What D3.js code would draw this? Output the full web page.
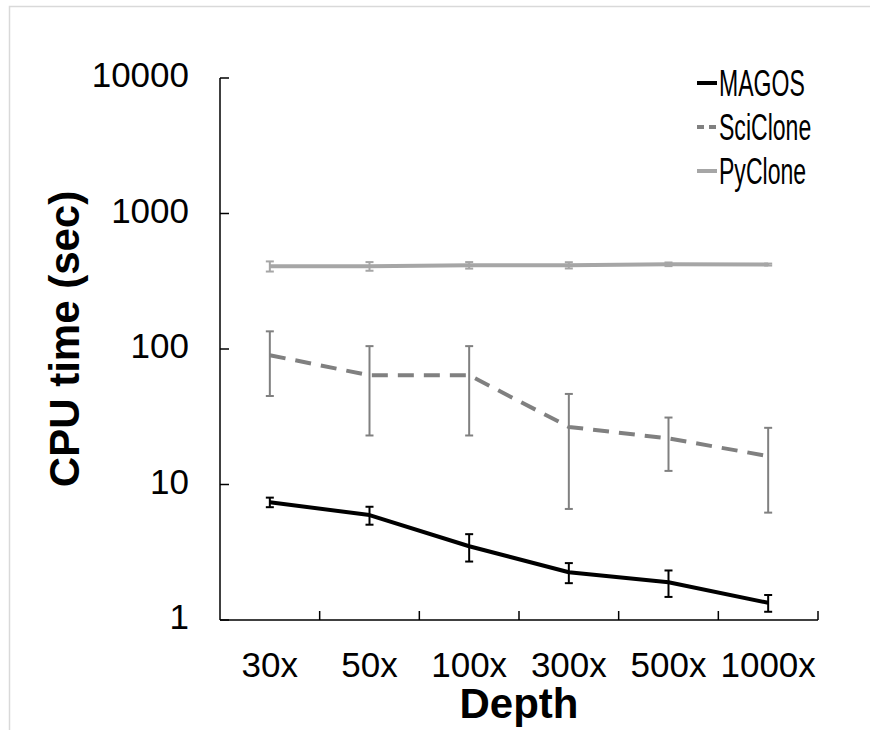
<!DOCTYPE html>
<html>
<head>
<meta charset="utf-8">
<script src="https://cdn.jsdelivr.net/npm/d3@7"></script>
<style>
  body { margin: 0; background: #fff; }
  text { font-family: "Liberation Sans", Arial, sans-serif; fill: #000; }
</style>
</head>
<body>
<script>
// data
var depths = ["30x", "50x", "100x", "300x", "500x", "1000x"];
var yTicks = [1, 10, 100, 1000, 10000];

var magos = [7.4, 5.95, 3.5, 2.25, 1.9, 1.34];
var magosErr = [0.6, 0.9, 0.8, 0.38, 0.42, 0.19];

var sciclone = [90, 64, 64, 26.6, 21.9, 16.2];
var scicloneErr = [45, 41, 41, 20, 9.3, 10];

var pyclone = [408, 408, 415, 415, 422, 420];
var pycloneErr = [35, 30, 23, 22, 13, 7];

var seriesNames = ["MAGOS", "SciClone", "PyClone"];

// set the dimensions
var width = 870, height = 730;
var plot = {left: 220, right: 818, top: 78, bottom: 620};

var svg = d3.select("body").append("svg")
    .attr("width", width)
    .attr("height", height);

// light frame (top and left edges only)
svg.append("path")
    .attr("d", "M9.5,730 L9.5,6.5 L870,6.5")
    .attr("fill", "none")
    .attr("stroke", "#d9d9d9")
    .attr("stroke-width", 1.5);

// set the ranges
var x = d3.scaleBand().domain(depths).range([plot.left, plot.right]);
var y = d3.scaleLog().domain([1, 10000]).range([plot.bottom, plot.top]);

var series = [
  {name: "MAGOS", values: magos, err: magosErr, color: "#000000", dash: null},
  {name: "SciClone", values: sciclone, err: scicloneErr, color: "#808080", dash: "16,10"},
  {name: "PyClone", values: pyclone, err: pycloneErr, color: "#a6a6a6", dash: null}
];

var line = d3.line()
    .x(function(d, i) { return x(depths[i]) + x.bandwidth() / 2; })
    .y(function(d) { return y(d); });

// draw in reverse so MAGOS sits on top
series.slice().reverse().forEach(function(s) {
  var g = svg.append("g");

  // error bars
  s.values.forEach(function(v, i) {
    var cx = x(depths[i]) + x.bandwidth() / 2;
    var y0 = y(v - s.err[i]), y1 = y(v + s.err[i]);
    g.append("line")
        .attr("x1", cx).attr("x2", cx)
        .attr("y1", y0).attr("y2", y1)
        .attr("stroke", s.color)
        .attr("stroke-width", 2);
    [y0, y1].forEach(function(yy) {
      g.append("line")
          .attr("x1", cx - 4).attr("x2", cx + 4)
          .attr("y1", yy).attr("y2", yy)
          .attr("stroke", s.color)
          .attr("stroke-width", 2);
    });
  });

  g.append("path")
      .datum(s.values)
      .attr("fill", "none")
      .attr("stroke", s.color)
      .attr("stroke-width", 4)
      .attr("stroke-linejoin", "round")
      .attr("stroke-dasharray", s.dash)
      .attr("d", line);
});

// Add the X Axis (ticks on band edges, pointing up)
var xAxis = svg.append("g");
xAxis.append("line")
    .attr("x1", plot.left).attr("x2", plot.right)
    .attr("y1", plot.bottom).attr("y2", plot.bottom)
    .attr("stroke", "#000").attr("stroke-width", 1.5);
depths.forEach(function(d) {
  var xe = x(d) + x.bandwidth();
  xAxis.append("line")
      .attr("x1", xe).attr("x2", xe)
      .attr("y1", plot.bottom).attr("y2", plot.bottom - 9)
      .attr("stroke", "#000").attr("stroke-width", 1.5);
});
xAxis.selectAll("text.tick")
    .data(depths)
  .enter().append("text")
    .attr("x", function(d) { return x(d) + x.bandwidth() / 2; })
    .attr("y", 677)
    .attr("text-anchor", "middle")
    .style("font-size", "35px")
    .text(function(d) { return d; });

// Add the Y Axis (ticks pointing right)
var yAxis = svg.append("g");
yAxis.append("line")
    .attr("x1", plot.left).attr("x2", plot.left)
    .attr("y1", plot.top).attr("y2", plot.bottom)
    .attr("stroke", "#000").attr("stroke-width", 1.5);
yAxis.selectAll("line.tick")
    .data(yTicks)
  .enter().append("line")
    .attr("x1", plot.left).attr("x2", plot.left + 9)
    .attr("y1", function(d) { return y(d); })
    .attr("y2", function(d) { return y(d); })
    .attr("stroke", "#000").attr("stroke-width", 1.5);
yAxis.selectAll("text")
    .data(yTicks)
  .enter().append("text")
    .attr("x", 189)
    .attr("y", function(d) { return y(d) + 9; })
    .attr("text-anchor", "end")
    .style("font-size", "35px")
    .text(function(d) { return d; });

// axis titles
svg.append("text")
    .attr("transform", "translate(79,339) rotate(-90)")
    .attr("text-anchor", "middle")
    .style("font-size", "42px")
    .style("font-weight", "bold")
    .text("CPU time (sec)");

svg.append("text")
    .attr("x", (plot.left + plot.right) / 2)
    .attr("y", 718)
    .attr("text-anchor", "middle")
    .style("font-size", "42px")
    .style("font-weight", "bold")
    .text("Depth");

// legend (text is drawn condensed, like the original)
var legend = svg.append("g");
series.forEach(function(s, i) {
  var ly = 83 + i * 44;
  legend.append("line")
      .attr("x1", 697).attr("x2", 717)
      .attr("y1", ly).attr("y2", ly)
      .attr("stroke", s.color)
      .attr("stroke-width", 4)
      .attr("stroke-dasharray", s.dash ? "7,5" : null);
  var t = legend.append("text")
      .attr("x", 719)
      .attr("y", ly + 13)
      .style("font-size", "36px")
      .text(seriesNames[i]);
  var len = t.node().getComputedTextLength();
  t.attr("textLength", len * 0.64)
      .attr("lengthAdjust", "spacingAndGlyphs");
});
</script>
</body>
</html>
